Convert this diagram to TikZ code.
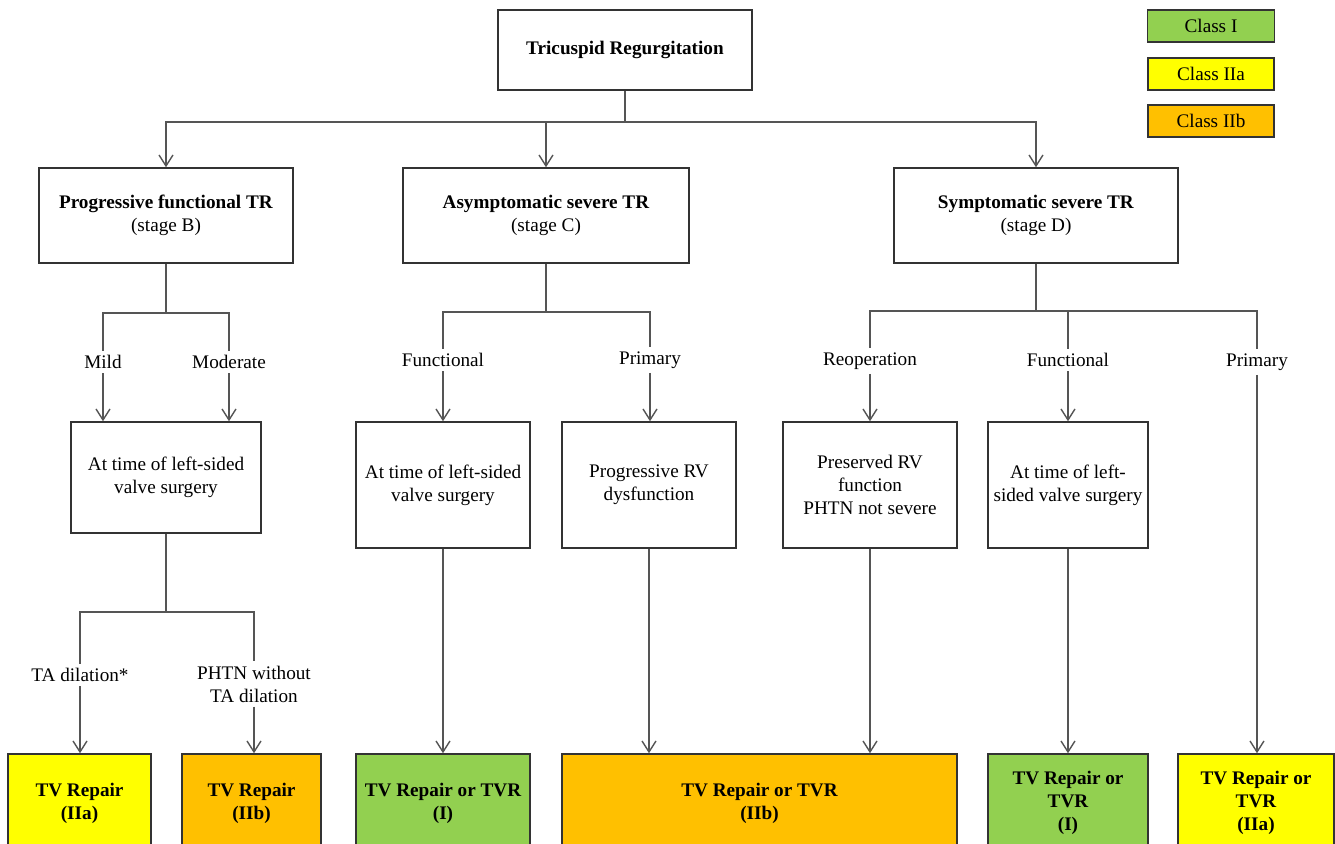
\documentclass[tikz,border=0pt]{standalone}
\usepackage{fontspec}
\setmainfont{Liberation Serif}
\usetikzlibrary{arrows.meta}

\definecolor{classI}{HTML}{92D050}
\definecolor{classIIa}{HTML}{FFFF00}
\definecolor{classIIb}{HTML}{FFC000}
\definecolor{linegray}{HTML}{555555}
\definecolor{boxgray}{HTML}{333333}

\begin{document}
\begin{tikzpicture}[x=0.5pt, y=-0.5pt,
    font=\fontsize{9.6}{11.5}\selectfont,
    box/.style={draw=boxgray, line width=0.75pt, align=center, inner sep=2pt},
    result/.style={box, font=\fontsize{9.6}{11.5}\selectfont\bfseries, minimum height=49pt},
    tag/.style={align=center, inner sep=2pt},
    conn/.style={draw=linegray, line width=0.7pt},
    arr/.style={conn, -{Straight Barb[length=5.5pt,width=7pt]}}]

    % Page
    \useasboundingbox (0,0) rectangle (1335,843);
    \clip (0,0) rectangle (1335,843);
    \fill[white] (0,0) rectangle (1335,843);

    % Top box
    \node[box, minimum width=127pt, minimum height=40pt] (tr) at (625,50) {\textbf{Tricuspid Regurgitation}};

    % Legend
    \node[box, fill=classI, minimum width=63.5pt, minimum height=16pt] (lgI) at (1211,26) {Class I};
    \node[box, fill=classIIa, minimum width=63pt, minimum height=16pt] (lgIIa) at (1211,74) {Class IIa};
    \node[box, fill=classIIb, minimum width=63pt, minimum height=16pt] (lgIIb) at (1211,121) {Class IIb};

    % Stages
    \node[box, minimum width=127pt, minimum height=47.5pt] (stB) at (166,215.5) {\textbf{Progressive functional TR}\\(stage B)};
    \node[box, minimum width=143pt, minimum height=47.5pt] (stC) at (546,215.5) {\textbf{Asymptomatic severe TR}\\(stage C)};
    \node[box, minimum width=142pt, minimum height=47.5pt] (stD) at (1036,215.5) {\textbf{Symptomatic severe TR}\\(stage D)};

    % Branch labels
    \node[tag] (mild) at (103,362) {Mild};
    \node[tag] (moderate) at (229,362) {Moderate};
    \node[tag] (funcC) at (443,360) {Functional};
    \node[tag] (primC) at (650,360) {Primary};
    \node[tag] (reop) at (870,361) {Reoperation};
    \node[tag] (funcD) at (1068,360) {Functional};
    \node[tag] (primD) at (1257,362) {Primary};
    \node[tag] (tadil) at (80,675) {TA dilation*};
    \node[tag] (phtn) at (254,684) {PHTN without\\TA dilation};

    % Middle boxes
    \node[box, minimum width=95pt, minimum height=55.5pt] (midB) at (166,477.5) {At time of left-sided\\valve surgery};
    \node[box, minimum width=87pt, minimum height=63pt] (c1) at (443,485) {At time of left-sided\\valve surgery};
    \node[box, minimum width=87pt, minimum height=63pt] (c2) at (649,485) {Progressive RV\\dysfunction};
    \node[box, minimum width=87pt, minimum height=63pt] (d1) at (870,485) {Preserved RV\\function\\PHTN not severe};
    \node[box, minimum width=80pt, minimum height=63pt] (d2) at (1068,485) {At time of left-\\sided valve surgery};

    % Recommendations
    \node[result, fill=classIIa, minimum width=71.5pt] (r1) at (79.5,803) {TV Repair\\(IIa)};
    \node[result, fill=classIIb, minimum width=69.5pt] (r2) at (251.5,803) {TV Repair\\(IIb)};
    \node[result, fill=classI, minimum width=87pt] (r3) at (443,803) {TV Repair or TVR\\(I)};
    \node[result, fill=classIIb, minimum width=197.5pt] (r4) at (759.5,803) {TV Repair or TVR\\(IIb)};
    \node[result, fill=classI, minimum width=80pt] (r5) at (1068,803) {TV Repair or\\TVR\\(I)};
    \node[result, fill=classIIa, minimum width=78pt] (r6) at (1256,803) {TV Repair or\\TVR\\(IIa)};

    % Junctions
    \coordinate (jTop) at (625,122);
    \coordinate (jB) at (166,313);
    \coordinate (jC) at (546,312);
    \coordinate (jD) at (1036,311);
    \coordinate (jB2) at (166,612);

    % Top level
    \draw[conn] (tr) -- (jTop);
    \draw[arr] (jTop) -| (stB);
    \draw[arr] (jTop) -| (stC);
    \draw[arr] (jTop) -| (stD);

    % Stage B
    \draw[conn] (stB) -- (jB);
    \draw[conn] (jB) -| (mild);
    \draw[conn] (jB) -| (moderate);
    \draw[arr] (mild) -- (mild |- midB.north);
    \draw[arr] (moderate) -- (moderate |- midB.north);
    \draw[conn] (midB) -- (jB2);
    \draw[conn] (jB2) -| (tadil);
    \draw[conn] (jB2) -| (phtn);
    \draw[arr] (tadil) -- (tadil |- r1.north);
    \draw[arr] (phtn) -- (phtn |- r2.north);

    % Stage C
    \draw[conn] (stC) -- (jC);
    \draw[conn] (jC) -| (funcC);
    \draw[conn] (jC) -| (primC);
    \draw[arr] (funcC) -- (c1);
    \draw[arr] (primC) -- (primC |- c2.north);
    \draw[arr] (c1) -- (r3);
    \draw[arr] (c2) -- (c2 |- r4.north);

    % Stage D
    \draw[conn] (stD) -- (jD);
    \draw[conn] (jD) -| (reop);
    \draw[conn] (jD) -| (funcD);
    \draw[conn] (jD) -| (primD);
    \draw[arr] (reop) -- (d1);
    \draw[arr] (funcD) -- (d2);
    \draw[arr] (primD) -- (primD |- r6.north);
    \draw[arr] (d1) -- (d1 |- r4.north);
    \draw[arr] (d2) -- (r5);

\end{tikzpicture}
\end{document}
